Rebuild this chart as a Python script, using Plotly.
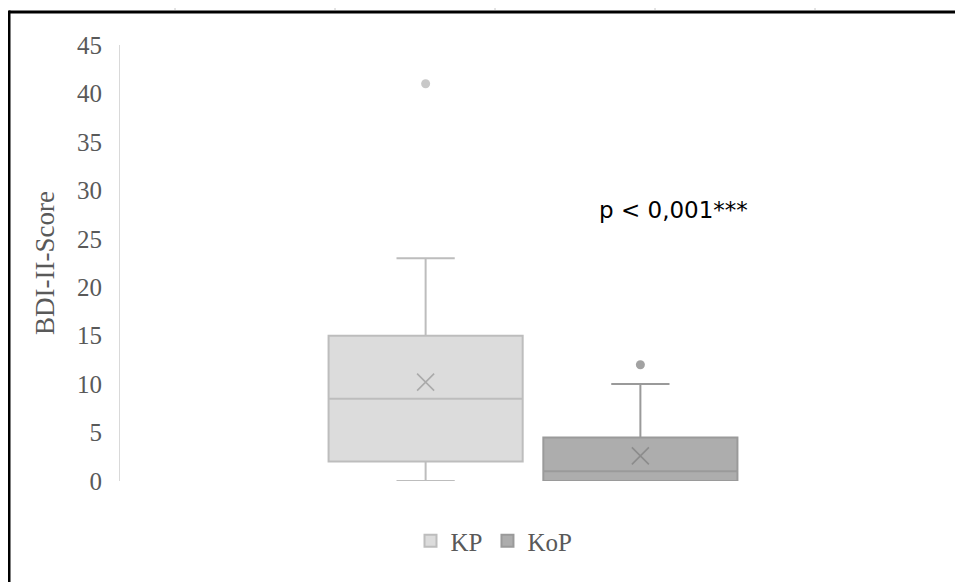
import plotly.graph_objects as go

# ---- data ----
groups = ["KP", "KoP"]
q1_vals = [2, 0]
median_vals = [8.5, 1]
q3_vals = [15, 4.5]
lower_whisker = [0, 0]
upper_whisker = [23, 10]
mean_vals = [10.2, 2.6]
outliers = [[41], [12]]
y_ticks = [0, 5, 10, 15, 20, 25, 30, 35, 40, 45]
p_text = "p < 0,001***"

# ---- styling / layout ----
OFF = 8  # page body margin of the html page
W, H = 963 - OFF, 582 - OFF
PL, PR, PT, PB = 120, 946, 45, 481  # plot area in window pixels
ML, MR, MT, MB = PL - OFF, W - (PR - OFF), PT - OFF, H - (PB - OFF)
positions = [-0.26, 0.26]
box_width = 0.47
fills = ["#DCDCDC", "#ADADAD"]
lines = ["#BDBDBD", "#9A9A9A"]
mean_cols = ["#AAAAAA", "#8C8C8C"]
out_cols = ["#C8C8C8", "#A2A2A2"]
serif = "Liberation Serif"
grey_txt = "#595959"

fig = go.Figure()
for i, g in enumerate(groups):
    fig.add_trace(go.Box(
        name=g, x=[positions[i]],
        q1=[q1_vals[i]], median=[median_vals[i]], q3=[q3_vals[i]],
        lowerfence=[lower_whisker[i]], upperfence=[upper_whisker[i]],
        boxmean=False,
        width=box_width, whiskerwidth=0.3,
        fillcolor=fills[i], line=dict(color=lines[i], width=2),
        boxpoints=False, hoverinfo="skip", showlegend=True,
    ))
for i, g in enumerate(groups):
    fig.add_trace(go.Scatter(
        x=[positions[i]], y=[mean_vals[i]], mode="markers",
        marker=dict(symbol="x-thin", size=17, line=dict(color=mean_cols[i], width=1.6)),
        showlegend=False, hoverinfo="skip",
    ))
    fig.add_trace(go.Scatter(
        x=[positions[i]] * len(outliers[i]), y=outliers[i], mode="markers",
        marker=dict(symbol="circle", size=9, color=out_cols[i]),
        showlegend=False, hoverinfo="skip",
    ))

fig.add_annotation(
    x=0.155, y=28, xref="x", yref="y", text=p_text, showarrow=False,
    xanchor="left", yanchor="middle",
    font=dict(family="DejaVu Sans", size=23, color="#000000"),
)

pw = PR - PL
ph = PB - PT
def px_x(p):  # window pixel -> paper
    return (p - PL) / pw
def px_y(p):
    return (PB - p) / ph

shapes = []
# black frame (top and left)
shapes.append(dict(type="line", xref="paper", yref="paper",
                   x0=px_x(9), x1=px_x(963), y0=px_y(12), y1=px_y(12),
                   line=dict(color="black", width=3)))
shapes.append(dict(type="line", xref="paper", yref="paper",
                   x0=px_x(9), x1=px_x(9), y0=px_y(10.5), y1=px_y(582),
                   line=dict(color="black", width=3)))
for tx in [175, 335, 495, 655, 815]:
    shapes.append(dict(type="line", xref="paper", yref="paper",
                       x0=px_x(tx), x1=px_x(tx), y0=px_y(OFF), y1=px_y(10),
                       line=dict(color="#C8C8C8", width=1)))

fig.update_layout(
    width=W, height=H, autosize=False,
    margin=dict(l=ML, r=MR, t=MT, b=MB, pad=0),
    paper_bgcolor="white", plot_bgcolor="white",
    shapes=shapes,
    showlegend=True,
    legend=dict(orientation="h", x=px_x(494), y=px_y(541),
                xanchor="center", yanchor="middle",
                font=dict(family=serif, size=25, color=grey_txt),
                bgcolor="rgba(0,0,0,0)", itemclick=False),
    xaxis=dict(range=[-1, 1], visible=False, fixedrange=True),
    yaxis=dict(range=[0, 45], tickvals=y_ticks, showgrid=False, zeroline=False,
               showline=True, linecolor="#D9D9D9", linewidth=1, ticks="",
               ticklabelstandoff=12,
               tickfont=dict(family=serif, size=25, color=grey_txt),
               title=dict(text="BDI-II-Score", standoff=14,
                          font=dict(family=serif, size=27, color=grey_txt)),
               fixedrange=True),
)

fig.write_html("out.html")
